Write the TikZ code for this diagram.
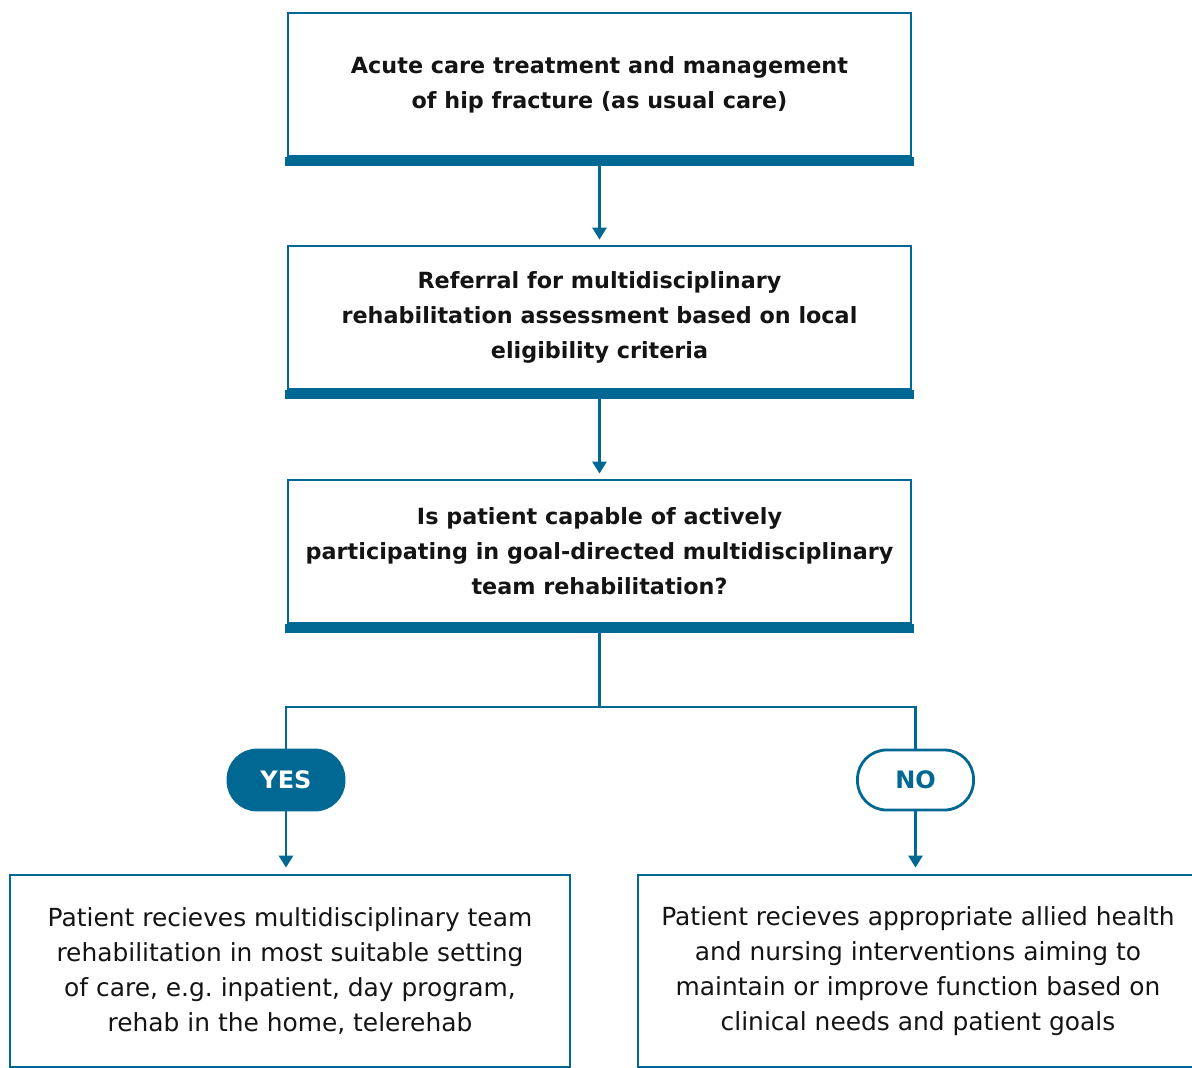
\documentclass[tikz,border=0pt]{standalone}
\usepackage{fontspec}
\setmainfont{DejaVu Sans}
\usetikzlibrary{arrows.meta, positioning}
\definecolor{hipblue}{RGB}{0,104,146}
\definecolor{hiptext}{RGB}{20,20,20}

\begin{document}
\begin{tikzpicture}[x=1pt, y=1pt,
    stepbox/.style={draw=hipblue, line width=2.8pt, minimum width=623pt, minimum height=143pt,
      inner xsep=4pt, align=center, font=\fontsize{22.3}{35}\selectfont\bfseries, text=hiptext},
    endbox/.style={draw=hipblue, line width=2.8pt, minimum width=560pt, minimum height=192pt,
      inner xsep=4pt, align=center, font=\fontsize{24.9}{35}\selectfont, text=hiptext},
    pill/.style={draw=hipblue, line width=2.8pt, rounded corners=29pt, minimum width=116pt,
      minimum height=60pt, font=\fontsize{24}{28}\selectfont\bfseries},
    link/.style={draw=hipblue, line width=2.8pt, -{Triangle[length=12pt, width=14pt]}},
    wire/.style={draw=hipblue, line width=2.8pt}]
    \useasboundingbox (0,0) rectangle (1192,-1068);

    % main steps
    \node[stepbox] (care) at (599.5,-84.5) {Acute care treatment and management\\of hip fracture (as usual care)};
    \node[stepbox] (referral) at (599.5,-317.5) {Referral for multidisciplinary\\rehabilitation assessment based on local\\eligibility criteria};
    \node[stepbox] (capable) at (599.5,-551.5) {Is patient capable of actively\\participating in goal-directed multidisciplinary\\team rehabilitation?};

    % thick bars under the steps
    \foreach \b in {care, referral, capable}
      \fill[hipblue] ([xshift=-1.4pt]\b.south west) rectangle ([xshift=1.4pt, yshift=-9pt]\b.south east);
    \coordinate (care bar) at ([yshift=-9pt]care.south);
    \coordinate (referral bar) at ([yshift=-9pt]referral.south);
    \coordinate (capable bar) at ([yshift=-9pt]capable.south);

    % answers
    \node[pill, fill=hipblue, text=white] (yes) at (286,-780) {YES};
    \node[pill, fill=white, text=hipblue] (no) at (915.5,-780) {NO};
    \coordinate (split) at (599.5,-707);

    % outcomes
    \node[endbox] (mdt) at (290,-971) {Patient recieves multidisciplinary team\\rehabilitation in most suitable setting\\of care, e.g.\ inpatient, day program,\\rehab in the home, telerehab};
    \node[endbox] (allied) at (918,-971) {Patient recieves appropriate allied health\\and nursing interventions aiming to\\maintain or improve function based on\\clinical needs and patient goals};

    % connectors
    \draw[link] (care bar) -- ([yshift=5pt]referral.north);
    \draw[link] (referral bar) -- ([yshift=5pt]capable.north);
    \draw[wire] (capable bar) -- (split) -| (yes.north);
    \draw[wire] (split) -| (no.north);
    \draw[link] (yes.south) -- ([yshift=6pt]yes.south |- mdt.north);
    \draw[link] (no.south) -- ([yshift=6pt]no.south |- allied.north);
\end{tikzpicture}
\end{document}
